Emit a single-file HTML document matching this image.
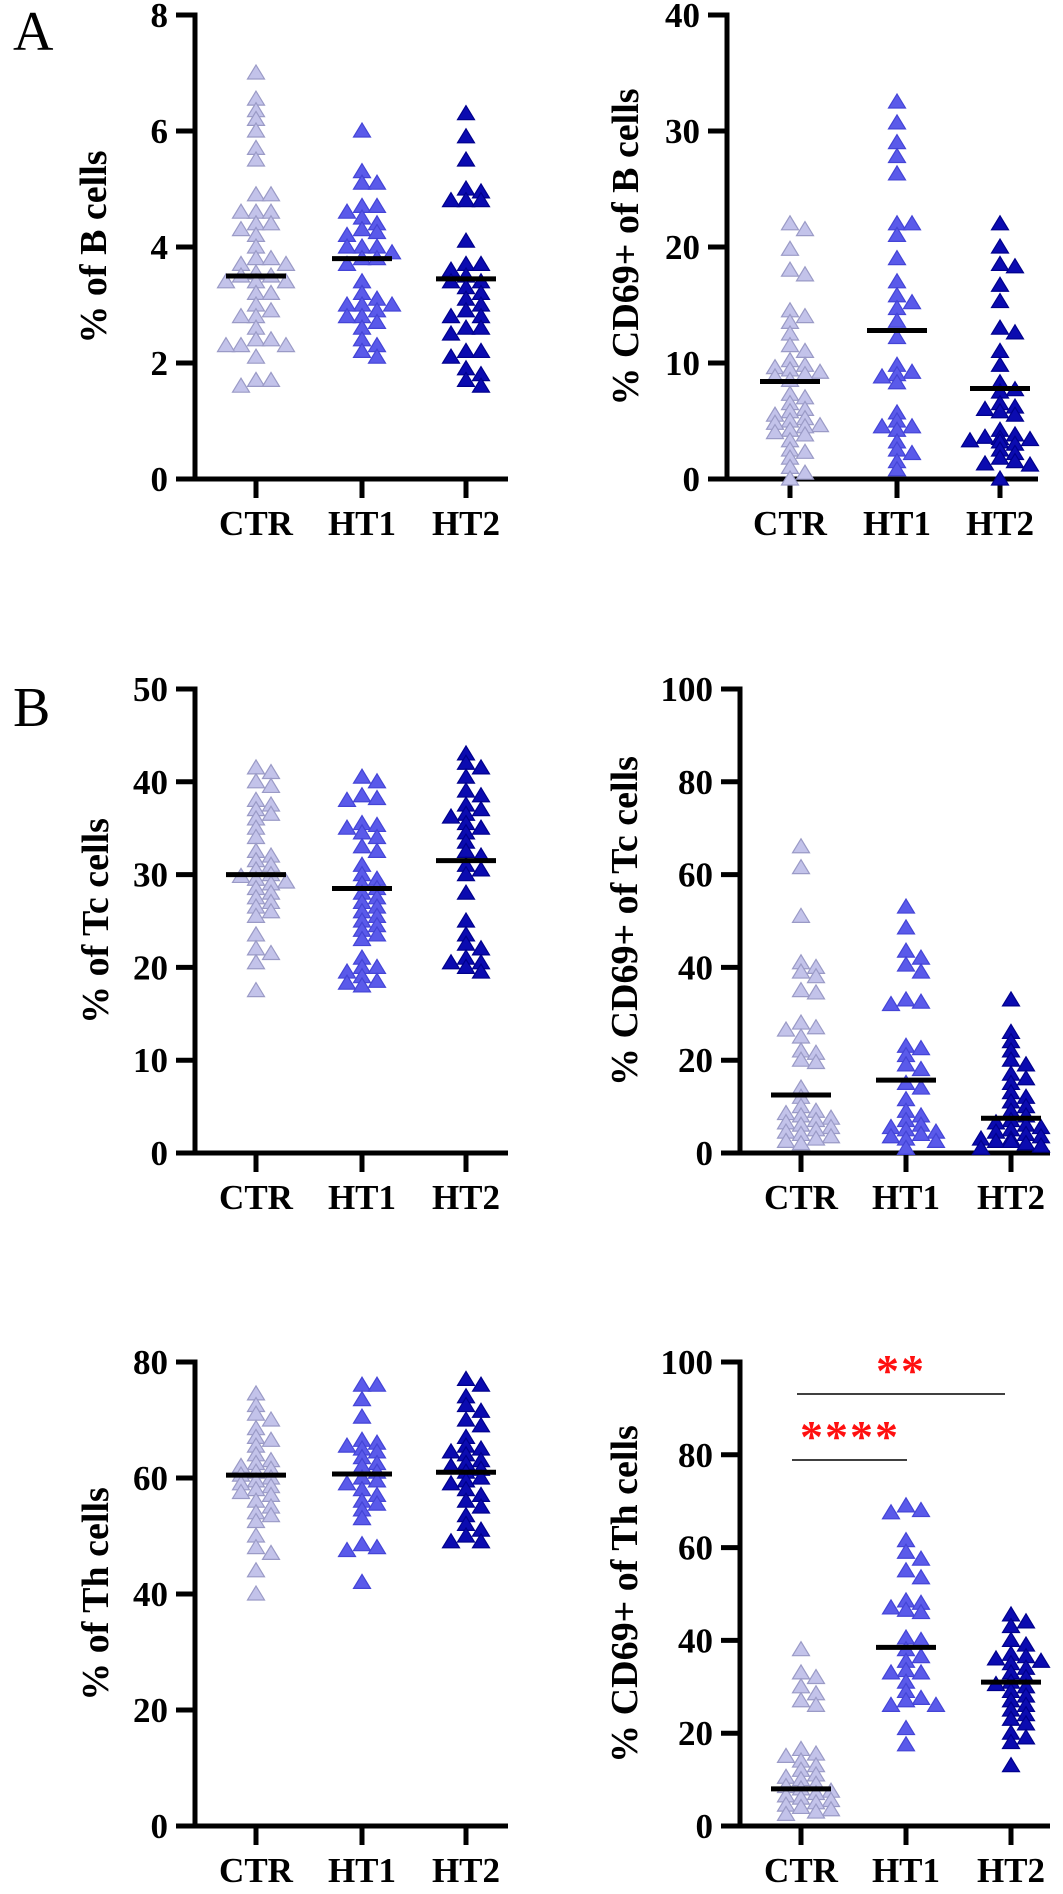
<!DOCTYPE html>
<html><head><meta charset="utf-8"><style>
html,body{margin:0;padding:0;background:#fff;}
svg{display:block;font-family:"Liberation Serif","Times New Roman",serif;}
</style></head><body>
<svg id="fig" width="1063" height="1894" viewBox="0 0 1063 1894">
<text x="13" y="50" font-size="56" fill="#000">A</text>
<text x="13" y="726" font-size="56" fill="#000">B</text>
</svg>
<script>
// ---- data ----
const categories = ["CTR","HT1","HT2"];
const ticksBcells = [0,2,4,6,8];
const ticksCD69B = [0,10,20,30,40];
const ticksTc = [0,10,20,30,40,50];
const ticksCD69Tc = [0,20,40,60,80,100];
const ticksTh = [0,20,40,60,80];
const ticksCD69Th = [0,20,40,60,80,100];

const bCtr = [7.0,6.55,6.35,6.2,6.0,5.7,5.5,4.9,4.9,4.6,4.6,4.6,4.4,4.4,4.3,4.2,4.0,3.8,3.8,3.7,3.7,3.55,3.5,3.5,3.4,3.4,3.4,3.2,3.2,3.0,2.9,2.8,2.8,2.6,2.4,2.4,2.3,2.3,2.3,2.1,1.7,1.7,1.6];
const bHt1 = [6.0,5.3,5.1,5.1,4.7,4.7,4.6,4.5,4.4,4.3,4.25,4.2,4.0,4.0,4.0,3.9,3.8,3.8,3.7,3.4,3.2,3.1,3.0,3.0,3.0,2.9,2.8,2.8,2.7,2.6,2.4,2.3,2.2,2.1];
const bHt2 = [6.3,5.9,5.5,5.0,4.95,4.8,4.8,4.8,4.1,3.7,3.7,3.6,3.5,3.4,3.4,3.3,3.2,3.1,3.0,2.9,2.8,2.8,2.6,2.6,2.5,2.2,2.2,2.1,1.9,1.8,1.7,1.6];
const bMedians = [3.5,3.8,3.45];

const cd69bCtr = [22,21.5,19.8,18,17.6,14.5,14,13.5,12.5,11.5,11,10.2,9.8,9.6,9.4,9.2,9,8.8,8.5,7.3,7,6.5,6,5.8,5.5,5.2,5,4.8,4.6,4.5,4.2,4,3.8,3.3,2.5,2.3,1.8,1,0.5,0];
const cd69bHt1 = [32.5,30.7,29,27.8,26.3,22,22,21,19,17,15.8,15.2,14.7,13.6,12.2,9.8,9.2,9,8.8,8.3,5.7,5,4.5,4.5,4.2,3.2,2.5,2.2,1.5,0.8];
const cd69bHt2 = [22,20,18.5,18.3,16.7,15.3,13,12.6,11,9.8,8.3,7.7,7.5,6.5,6.2,6,5.8,5.5,4.2,3.8,3.6,3.5,3.4,3.3,3.2,3,2.5,2.2,1.8,1.5,1.3,1.2,0];
const cd69bMedians = [8.4,12.8,7.8];

const tcCtr = [41.5,41,40,39.5,38,37.5,37,36.5,36,35,34,32.5,32,31.5,31,30.5,30,29.8,29.5,29.2,29,28.5,28,27.5,27,26.5,26,25.5,23.5,22,21.5,20.5,17.5];
const tcHt1 = [40,40.5,38.5,38.2,38,35.5,35.3,35,34.5,34,33,32.5,31,30,29.5,29,28.5,28,27.5,27,26.5,26,25.5,25,24.5,24,23.5,23,21,20,20,19.5,19,18.5,18.3,18];
const tcHt2 = [43,42,41.5,40.5,39,38.5,37.5,37,36.5,36.2,35.5,35,34.5,33.5,32.5,32,31,30.5,30,28,25,23.5,22.5,22,21,20.5,20.5,20,19.5];
const tcMedians = [30,28.5,31.5];

const cd69tcCtr = [66,61.5,51,41,40,39,38,35,34.5,28,27,26.5,25,22,21.5,20,19.5,14,12,10,9,8.5,8,7.5,7,6.5,6,5.5,5,4.5,4,3.5,3,2.5,2];
const cd69tcHt1 = [53,48.5,43.5,42,40.5,39,33,32.5,32,23,22.5,21,19,18,15,14,11.5,9,8,7,6,5.5,5,4.5,4,3.5,3,2.5,1];
const cd69tcHt2 = [33,26,24,22,20,19,17,16,15,13,12,11,10,9,8,7,6.5,6,5.5,5,4.5,4,3.5,3,3,2.5,2.5,2,2,1.5,1];
const cd69tcMedians = [12.5,15.7,7.5];

const thCtr = [74.5,72.5,71,70,68.5,67,66.5,65.5,64,63,62.5,62,61.5,61,60.5,60,59.5,59,58.5,58,57.5,57,56,55,54,53.5,52.5,50,48,47,44,40];
const thHt1 = [76,76,73.5,70.5,66.5,66,65.5,65,64.5,63.5,62.5,62,61,60,59.5,59,58,57,56,55.5,54.5,53,48.5,48,47.5,42];
const thHt2 = [77,76,74,72.5,71.5,70,69,67,65.5,65,64.5,64,63,62.5,62,61.5,61,60,59.5,59,58,57,56,55,53.5,52,51,50,49,49];
const thMedians = [60.5,60.7,61];

const cd69thCtr = [38,33,32,30,28.5,27,26,16.5,15.5,15,14,13,12,11,10.5,10,9,8.5,8,7.5,7,6.5,6,5.5,5,4.5,4,3.5,3,2.5];
const cd69thHt1 = [69,68,67.5,61.5,59,57.5,55,53.5,48.5,48,47,46.5,46,40.5,40,38,36.5,35.5,33.5,33,33,31,29,27.5,27,26,26,21,17.5];
const cd69thHt2 = [45.5,44,43,40,39,37,36.5,36,35.5,35,34,33,32,31,30.5,30,29,28,27,26,25,24,23,22,20,19,18,13];
const cd69thMedians = [8,38.5,31];

const sigLabels = ["****","**"];

// ---- drawing ----
const NS = "http://www.w3.org/2000/svg";
const svg = document.getElementById('fig');
const fills = ["#c3c3ea","#5a5aea","#0b0bb0"];
const strokes = ["#9a9ac6","#4444d6","#00008c"];

function mk(tag, attrs, parent){
  const e = document.createElementNS(NS, tag);
  for (const k in attrs) e.setAttribute(k, attrs[k]);
  (parent||svg).appendChild(e);
  return e;
}

function drawPanel(cfg){
  const g = mk('g', {});
  
  
  const max = cfg.ticks[cfg.ticks.length-1];
  const yS = v => cfg.y0 - (v/max)*(cfg.y0 - cfg.yTop);
  const ya = mk('line', {x1:cfg.ax, y1:cfg.yTop-2.5, x2:cfg.ax, y2:cfg.y0+2.5, stroke:'#000','stroke-width':5}, g);
  
  
  const xa = mk('line', {x1:cfg.ax-19, y1:cfg.y0, x2:cfg.xEnd, y2:cfg.y0, stroke:'#000','stroke-width':5}, g);
  
  
  cfg.ticks.forEach(t => {
    const y = yS(t);
    if (t !== 0) mk('line', {x1:cfg.ax-19, y1:y, x2:cfg.ax, y2:y, stroke:'#000','stroke-width':5}, g);
    const tl = mk('text', {x:cfg.ax-27, y:y+12, 'text-anchor':'end','font-size':35,'font-weight':'bold',fill:'#000'}, g);
    tl.textContent = t;
    
    
  });
  categories.forEach((c,i) => {
    const x = cfg.cx[i];
    mk('line', {x1:x, y1:cfg.y0, x2:x, y2:cfg.y0+19, stroke:'#000','stroke-width':5}, g);
    const cl = mk('text', {x:x, y:cfg.y0+56, 'text-anchor':'middle','font-size':35,'font-weight':'bold',fill:'#000'}, g);
    cl.textContent = c;
    
    
  });
  const tt = mk('text', {x:0, y:0, 'text-anchor':'middle','font-size':38,'font-weight':'bold',fill:'#000',
    transform:`translate(${cfg.titleX},${(cfg.yTop+cfg.y0)/2}) rotate(-90)`}, g);
  tt.textContent = cfg.title;
  
  
  cfg.series.forEach((vals, i) => {
    const placed = [];
    const sorted = vals.slice().sort((a,b)=>b-a);
    sorted.forEach(v => {
      const y = yS(v);
      let best = 0, bestCount = 1e9;
      for (let k=0; k<9; k++){
        const cand = k===0 ? 0 : (k%2 ? 1 : -1) * Math.ceil(k/2) * 7.5;
        const cnt = placed.filter(p => Math.abs(p.x-cand) < 12 && Math.abs(p.y-y) < 8).length;
        if (cnt < bestCount) { bestCount = cnt; best = cand; }
        if (cnt === 0) break;
      }
      placed.push({x:best, y:y});
      const x = cfg.cx[i] + best;
      const tri = mk('polygon', {points:`${x},${y-8} ${x-8.5},${y+6} ${x+8.5},${y+6}`, fill:fills[i], stroke:strokes[i], 'stroke-width':1.2}, g);
      
      
    });
    const my = yS(cfg.medians[i]);
    const ml = mk('line', {x1:cfg.cx[i]-30, y1:my, x2:cfg.cx[i]+30, y2:my, stroke:'#000','stroke-width':5}, g);
    
    
  });
  return {g, yS};
}

drawPanel({name:'panel-b-cells', ax:195, yTop:15, y0:479, xEnd:508, cx:[256,362,466], ticks:ticksBcells, titleX:106, title:'% of B cells', series:[bCtr,bHt1,bHt2], medians:bMedians});
drawPanel({name:'panel-cd69-b-cells', ax:727, yTop:15, y0:479, xEnd:1038, cx:[790,897,1000], ticks:ticksCD69B, titleX:638, title:'% CD69+ of B cells', series:[cd69bCtr,cd69bHt1,cd69bHt2], medians:cd69bMedians});
drawPanel({name:'panel-tc-cells', ax:195, yTop:689, y0:1153, xEnd:508, cx:[256,362,466], ticks:ticksTc, titleX:108, title:'% of Tc cells', series:[tcCtr,tcHt1,tcHt2], medians:tcMedians});
drawPanel({name:'panel-cd69-tc-cells', ax:740, yTop:689, y0:1153, xEnd:1050, cx:[801,906,1011], ticks:ticksCD69Tc, titleX:637, title:'% CD69+ of Tc cells', series:[cd69tcCtr,cd69tcHt1,cd69tcHt2], medians:cd69tcMedians});
drawPanel({name:'panel-th-cells', ax:195, yTop:1362, y0:1826, xEnd:508, cx:[256,362,466], ticks:ticksTh, titleX:108, title:'% of Th cells', series:[thCtr,thHt1,thHt2], medians:thMedians});
drawPanel({name:'panel-cd69-th-cells', ax:740, yTop:1362, y0:1826, xEnd:1050, cx:[801,906,1011], ticks:ticksCD69Th, titleX:637, title:'% CD69+ of Th cells', series:[cd69thCtr,cd69thHt1,cd69thHt2], medians:cd69thMedians});

const s1 = mk('line', {x1:792, y1:1460, x2:907, y2:1460, stroke:'#000','stroke-width':1.5});


const t1 = mk('text', {x:850, y:1452, 'text-anchor':'middle','font-size':46,'font-weight':'bold',fill:'#ff1010','letter-spacing':'2'});
t1.textContent = sigLabels[0];


const s2 = mk('line', {x1:797, y1:1394, x2:1005, y2:1394, stroke:'#000','stroke-width':1.5});


const t2 = mk('text', {x:901, y:1386, 'text-anchor':'middle','font-size':46,'font-weight':'bold',fill:'#ff1010','letter-spacing':'2'});
t2.textContent = sigLabels[1];


</script>
</body></html>
